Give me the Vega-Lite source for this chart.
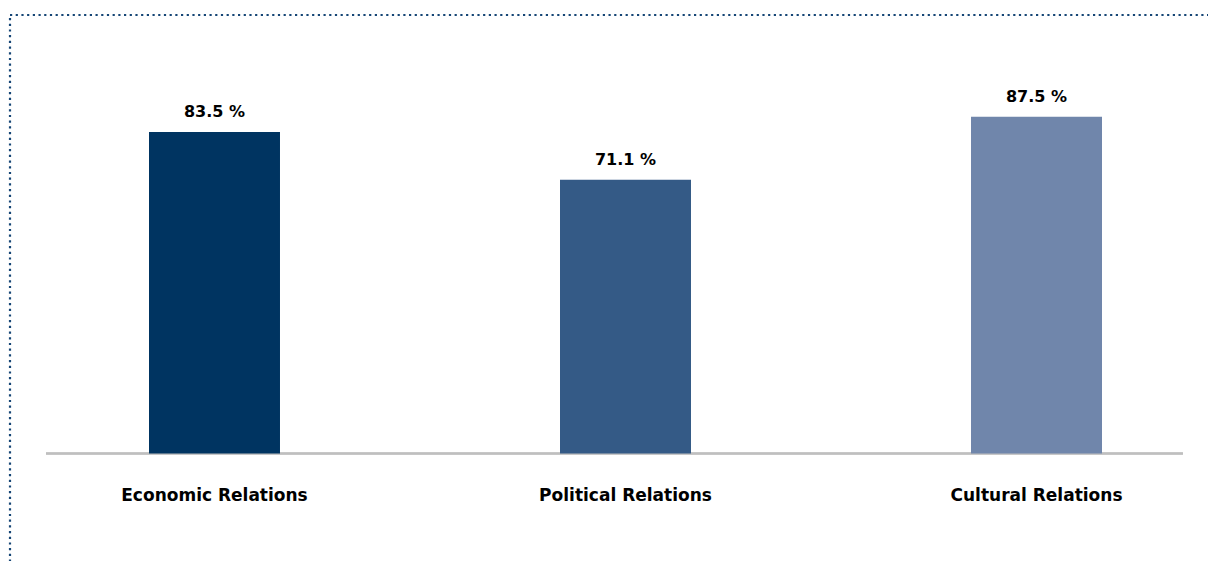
{
  "$schema": "https://vega.github.io/schema/vega-lite/v6.json",
  "width": 1231,
  "height": 550,
  "autosize": {"type": "none"},
  "padding": {"left": 10, "top": 15, "right": 0, "bottom": 0},
  "background": "white",
  "config": {
    "font": "DejaVu Sans",
    "view": {"stroke": "#164676", "strokeWidth": 2.2, "strokeDash": [2.2, 3.5]}
  },
  "data": {
    "values": [
      {"category": "Economic Relations", "value": 83.5},
      {"category": "Political Relations", "value": 71.1},
      {"category": "Cultural Relations", "value": 87.5}
    ]
  },
  "transform": [
    {"calculate": "format(datum.value, '.1f') + ' %'", "as": "label"}
  ],
  "encoding": {
    "x": {
      "field": "category",
      "type": "nominal",
      "sort": null,
      "scale": {
        "domain": ["Economic Relations", "Political Relations", "Cultural Relations"],
        "paddingInner": 0.6813,
        "paddingOuter": 0.3382
      },
      "axis": null
    }
  },
  "layer": [
    {
      "mark": {"type": "rule", "color": "#bfbfbf", "strokeWidth": 2},
      "encoding": {
        "x": {"datum": "Economic Relations", "type": "nominal", "bandPosition": -0.786},
        "x2": {"datum": "Cultural Relations", "bandPosition": 1.618},
        "y": {"datum": 0, "type": "quantitative", "scale": {"domain": [-28.96, 113.9], "nice": false, "zero": false}, "axis": null}
      }
    },
    {
      "mark": {"type": "bar"},
      "encoding": {
        "y": {"field": "value", "type": "quantitative"},
        "y2": {"datum": 0},
        "color": {
          "field": "category",
          "type": "nominal",
          "scale": {
            "domain": ["Economic Relations", "Political Relations", "Cultural Relations"],
            "range": ["#003461", "#345a86", "#7086ab"]
          },
          "legend": null
        }
      }
    },
    {
      "mark": {"type": "text", "fontWeight": "bold", "fontSize": 16, "baseline": "alphabetic", "dy": -15, "color": "#000000"},
      "encoding": {
        "y": {"field": "value", "type": "quantitative"},
        "text": {"field": "label"}
      }
    },
    {
      "mark": {"type": "text", "fontWeight": "bold", "fontSize": 17, "baseline": "middle", "color": "#000000"},
      "encoding": {
        "y": {"datum": -11, "type": "quantitative"},
        "text": {"field": "category"}
      }
    }
  ]
}
